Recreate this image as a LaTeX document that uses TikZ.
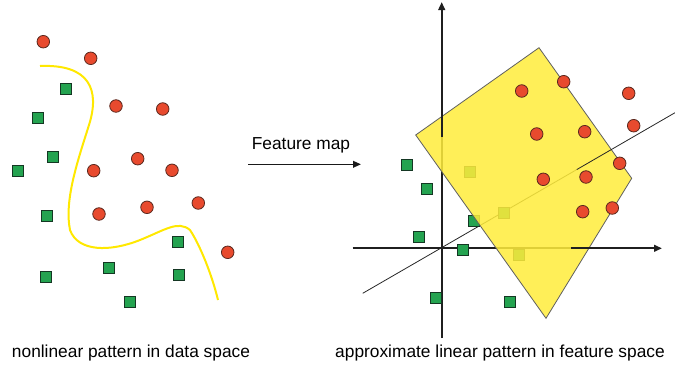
\documentclass[tikz,border=0pt]{standalone}
\usepackage{fontspec}
\setmainfont{Liberation Sans}
\usetikzlibrary{arrows.meta}
\definecolor{dotred}{RGB}{232,74,46}
\definecolor{dotedge}{RGB}{90,40,30}
\definecolor{sqgreen}{RGB}{36,163,80}
\definecolor{sqedge}{RGB}{20,55,35}
\definecolor{regionyellow}{RGB}{255,236,60}
\definecolor{curveyellow}{RGB}{255,232,0}
\definecolor{regionedge}{RGB}{95,95,95}
\begin{document}
\begin{tikzpicture}[x=0.75pt,y=-0.75pt,
  reddot/.style={circle, fill=dotred, draw=dotedge, line width=0.6pt, minimum size=9.4pt, inner sep=0pt},
  greensq/.style={rectangle, fill=sqgreen, draw=sqedge, line width=0.6pt, minimum size=8.3pt, inner sep=0pt},
  axisline/.style={line width=1.6pt, black!88},
  axistip/.style={-{Triangle[length=6pt,width=5pt]}},
  sepline/.style={line width=0.6pt, black!85},
  caption/.style={font=\fontsize{13}{15}\selectfont, inner sep=0pt}]
\useasboundingbox (0,0) rectangle (675,369);

% ---------- data space ----------
\draw[curveyellow, line width=1.5pt]
  (40,66) .. controls (90,64) and (100,90) .. (89,125)
  .. controls (78,160) and (64,200) .. (70,230)
  .. controls (78,252) and (110,252) .. (140,240)
  .. controls (165,230) and (178,220) .. (190,230)
  .. controls (200,245) and (212,275) .. (218,300);

\foreach \px/\py [count=\i] in {43.3/41.7, 90.7/58.3, 116/106, 162.7/109, 137.7/158.7,
    93.7/170.7, 172/170.3, 99/214, 147/207.3, 198.3/203, 227.7/252.3}
  \node[reddot] (lr\i) at (\px,\py) {};

\foreach \px/\py [count=\i] in {65.7/89, 37.7/117.7, 53/156.7, 17.7/171, 47/216,
    177.7/241.7, 109/268, 46.3/276.7, 179/275, 130/301.7}
  \node[greensq] (lg\i) at (\px,\py) {};

% ---------- feature map arrow ----------
\node[caption] (fm) at (301,145.8) {Feature map};
\coordinate (fa) at (248,164.3);
\coordinate (fb) at (361,164.3);
\draw[line width=1.2pt, black!90, -{Triangle[length=6pt,width=5pt]}] (fa) -- (fb);

% ---------- feature space ----------
\coordinate (O) at (441.7,248.3);
\coordinate (yb) at (441.7,338);
\coordinate (ym) at (441.7,137);
\coordinate (yt) at (441.7,2);
\coordinate (xl) at (352.7,248.3);
\coordinate (xm) at (571,248.3);
\coordinate (xr) at (662,248.3);
\coordinate (sl) at (362.7,293.3);
\coordinate (sm) at (576.7,169.6);
\coordinate (sr) at (675,112.7);

% lower parts of the axes and separator, seen through the region
\draw[axisline] (yb) -- (ym);
\draw[axisline] (xl) -- (xm);
\draw[sepline] (sl) -- (sm);

% squares lying under the region
\foreach \px/\py [count=\i] in {470/171.7, 504/213.3, 519/255, 473.7/221}
  \node[greensq] (rh\i) at (\px,\py) {};

% the region
\draw[regionedge, line width=0.6pt, fill=regionyellow, fill opacity=0.86]
  (539,47.7) -- (631.7,178.3) -- (546,318.3) -- (415.7,135) -- cycle;

% upper parts drawn over the region
\draw[axisline, axistip] (ym) -- (yt);
\draw[axisline, axistip] (xm) -- (xr);
\draw[sepline] (sm) -- (sr);

\foreach \px/\py [count=\i] in {521.7/91, 563.7/81.7, 628.7/93.3, 536.7/134, 584.7/131.7,
    633.7/125.7, 619.7/163.3, 543.3/179.3, 586/177, 582.7/211.7, 612.3/208}
  \node[reddot] (rr\i) at (\px,\py) {};

\foreach \px/\py [count=\i] in {407.3/165, 427.3/188.7, 419/237.3, 463.3/250,
    435.7/297.7, 510.3/301.7}
  \node[greensq] (rg\i) at (\px,\py) {};

% ---------- captions ----------
\node[caption] (capl) at (131,353) {nonlinear pattern in data space};
\node[caption] (capr) at (500,353) {approximate linear pattern in feature space};
\end{tikzpicture}
\end{document}
